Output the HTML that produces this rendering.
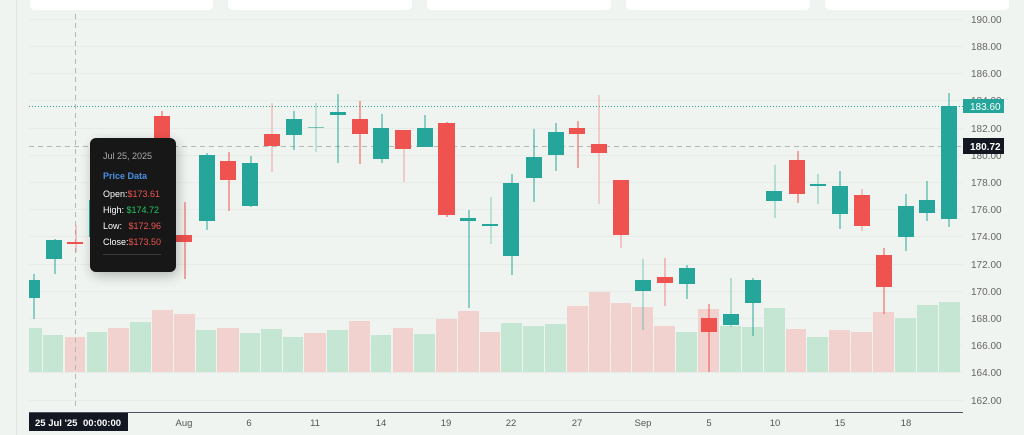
<!DOCTYPE html>
<html><head><meta charset="utf-8"><style>
html,body{margin:0;padding:0;background:#f0f4f0;}
svg{display:block;font-family:"Liberation Sans",sans-serif;}
</style></head><body>
<svg width="1024" height="435" viewBox="0 0 1024 435" xmlns="http://www.w3.org/2000/svg">
<defs><filter id="sh" x="-40%" y="-30%" width="180%" height="160%"><feGaussianBlur stdDeviation="6"/></filter></defs>
<rect width="1024" height="435" fill="#f0f4f0"/>
<line x1="16.5" y1="0" x2="16.5" y2="435" stroke="#e2e6e2"/>
<g fill="#fff">
<rect x="30" y="-6" width="183" height="16" rx="5"/>
<rect x="228" y="-6" width="184" height="16" rx="5"/>
<rect x="427" y="-6" width="184" height="16" rx="5"/>
<rect x="626" y="-6" width="184" height="16" rx="5"/>
<rect x="825" y="-6" width="184" height="16" rx="5"/>
</g>
<g stroke="#e8ece8" stroke-width="1">
<line x1="29" x2="963" y1="19.5" y2="19.5"/><line x1="29" x2="963" y1="46.5" y2="46.5"/><line x1="29" x2="963" y1="73.5" y2="73.5"/><line x1="29" x2="963" y1="100.5" y2="100.5"/><line x1="29" x2="963" y1="128.5" y2="128.5"/><line x1="29" x2="963" y1="155.5" y2="155.5"/><line x1="29" x2="963" y1="182.5" y2="182.5"/><line x1="29" x2="963" y1="209.5" y2="209.5"/><line x1="29" x2="963" y1="236.5" y2="236.5"/><line x1="29" x2="963" y1="264.5" y2="264.5"/><line x1="29" x2="963" y1="291.5" y2="291.5"/><line x1="29" x2="963" y1="318.5" y2="318.5"/><line x1="29" x2="963" y1="345.5" y2="345.5"/><line x1="29" x2="963" y1="372.5" y2="372.5"/><line x1="29" x2="963" y1="400.5" y2="400.5"/>
</g>
<!-- volume -->
<g>
<rect x="29" y="328" width="13" height="44" fill="#c5e6d3"/>
<rect x="43" y="335" width="20" height="37" fill="#c5e6d3"/>
<rect x="65" y="337" width="20" height="35" fill="#f2d2cf"/>
<rect x="87" y="332" width="20" height="40" fill="#c5e6d3"/>
<rect x="108" y="328" width="21" height="44" fill="#f2d2cf"/>
<rect x="130" y="322" width="21" height="50" fill="#c5e6d3"/>
<rect x="152" y="310" width="21" height="62" fill="#f2d2cf"/>
<rect x="174" y="314" width="21" height="58" fill="#f2d2cf"/>
<rect x="196" y="330" width="20" height="42" fill="#c5e6d3"/>
<rect x="217" y="328" width="22" height="44" fill="#f2d2cf"/>
<rect x="240" y="333" width="20" height="39" fill="#c5e6d3"/>
<rect x="261" y="329" width="21" height="43" fill="#c5e6d3"/>
<rect x="283" y="337" width="20" height="35" fill="#c5e6d3"/>
<rect x="304" y="333" width="22" height="39" fill="#f2d2cf"/>
<rect x="327" y="330" width="21" height="42" fill="#c5e6d3"/>
<rect x="349" y="321" width="21" height="51" fill="#f2d2cf"/>
<rect x="371" y="335" width="20" height="37" fill="#c5e6d3"/>
<rect x="393" y="328" width="20" height="44" fill="#f2d2cf"/>
<rect x="414" y="334" width="21" height="38" fill="#c5e6d3"/>
<rect x="436" y="319" width="21" height="53" fill="#f2d2cf"/>
<rect x="458" y="311" width="21" height="61" fill="#f2d2cf"/>
<rect x="480" y="332" width="20" height="40" fill="#f2d2cf"/>
<rect x="501" y="323" width="21" height="49" fill="#c5e6d3"/>
<rect x="523" y="326" width="21" height="46" fill="#c5e6d3"/>
<rect x="545" y="324" width="21" height="48" fill="#c5e6d3"/>
<rect x="567" y="306" width="21" height="66" fill="#f2d2cf"/>
<rect x="589" y="292" width="21" height="80" fill="#f2d2cf"/>
<rect x="611" y="303" width="20" height="69" fill="#f2d2cf"/>
<rect x="632" y="307" width="21" height="65" fill="#f2d2cf"/>
<rect x="654" y="326" width="21" height="46" fill="#f2d2cf"/>
<rect x="676" y="332" width="21" height="40" fill="#c5e6d3"/>
<rect x="698" y="309" width="21" height="63" fill="#f2d2cf"/>
<rect x="720" y="326" width="21" height="46" fill="#c5e6d3"/>
<rect x="742" y="327" width="21" height="45" fill="#c5e6d3"/>
<rect x="764" y="308" width="21" height="64" fill="#c5e6d3"/>
<rect x="786" y="329" width="20" height="43" fill="#f2d2cf"/>
<rect x="807" y="337" width="21" height="35" fill="#c5e6d3"/>
<rect x="829" y="330" width="21" height="42" fill="#f2d2cf"/>
<rect x="851" y="332" width="21" height="40" fill="#f2d2cf"/>
<rect x="873" y="312" width="21" height="60" fill="#f2d2cf"/>
<rect x="895" y="318" width="21" height="54" fill="#c5e6d3"/>
<rect x="917" y="305" width="21" height="67" fill="#c5e6d3"/>
<rect x="939" y="302" width="21" height="70" fill="#c5e6d3"/>
</g>
<!-- price lines -->
<line x1="29" x2="963" y1="106.5" y2="106.5" stroke="#26a69a" stroke-dasharray="1 2"/>
<line x1="29" x2="963" y1="146.5" y2="146.5" stroke="#b4b8b4" stroke-dasharray="5 4"/>
<line x1="75.5" x2="75.5" y1="14" y2="410" stroke="#b4b8b4" stroke-dasharray="5 4"/>
<!-- candles -->
<g>
<!-- green -->
<g fill="#26a69a">
<rect x="33.5" y="274" width="1" height="45"/><rect x="29" y="280" width="11" height="18"/>
<rect x="54.5" y="239" width="1" height="35"/><rect x="46" y="240" width="16" height="19"/>
<rect x="96.5" y="195" width="1" height="45"/><rect x="89" y="200" width="16" height="37"/>
<rect x="140.5" y="185" width="1" height="30"/><rect x="132" y="190" width="16" height="20"/>
<rect x="206.5" y="153" width="1" height="77"/><rect x="199" y="155" width="16" height="66"/>
<rect x="250.5" y="156" width="1" height="51"/><rect x="242" y="163" width="16" height="43"/>
<rect x="293.5" y="111" width="1" height="39"/><rect x="286" y="119" width="16" height="16"/>
<rect x="337.5" y="94" width="1" height="69"/><rect x="330" y="112" width="16" height="3"/>
<rect x="381.5" y="114" width="1" height="49"/><rect x="373" y="128" width="16" height="31"/>
<rect x="424.5" y="115" width="1" height="32"/><rect x="417" y="128" width="16" height="19"/>
<rect x="468.5" y="210" width="1" height="98"/><rect x="460" y="218" width="16" height="3"/>
<rect x="511.5" y="174" width="1" height="101"/><rect x="503" y="183" width="16" height="73"/>
<rect x="533.5" y="129" width="1" height="73"/><rect x="526" y="157" width="16" height="21"/>
<rect x="555.5" y="123" width="1" height="48"/><rect x="548" y="132" width="16" height="23"/>
<rect x="642.5" y="259" width="1" height="71" opacity=".6"/><rect x="635" y="280" width="16" height="11"/>
<rect x="686.5" y="265" width="1" height="34"/><rect x="679" y="268" width="16" height="16"/>
<rect x="730.5" y="278" width="1" height="49" opacity=".6"/><rect x="723" y="314" width="16" height="11"/>
<rect x="752.5" y="278" width="1" height="58"/><rect x="745" y="280" width="16" height="23"/>
<rect x="774.5" y="165" width="1" height="53" opacity=".6"/><rect x="766" y="191" width="16" height="10"/>
<rect x="817.5" y="174" width="1" height="30" opacity=".6"/><rect x="810" y="184" width="16" height="2"/>
<rect x="839.5" y="171" width="1" height="58"/><rect x="832" y="186" width="16" height="28"/>
<rect x="905.5" y="194" width="1" height="57"/><rect x="898" y="206" width="16" height="31"/>
<rect x="926.5" y="181" width="1" height="40"/><rect x="919" y="200" width="16" height="13"/>
<rect x="948.5" y="93" width="1" height="134"/><rect x="941" y="106" width="16" height="113"/>
<rect x="315.5" y="103" width="1" height="49" opacity=".5"/><rect x="308" y="127" width="16" height="1" opacity=".6"/>
<rect x="490.5" y="197" width="1" height="47" opacity=".5"/><rect x="482" y="224" width="16" height="2"/>
</g>
<g fill="#ef5350">
<rect x="75.5" y="225" width="1" height="27" opacity=".6"/><rect x="67" y="242" width="16" height="2"/>
<rect x="118.5" y="190" width="1" height="30"/><rect x="111" y="195" width="16" height="20"/>
<rect x="161.5" y="111" width="1" height="55"/><rect x="154" y="116" width="16" height="44"/>
<rect x="184.5" y="202" width="1" height="77"/><rect x="176" y="235" width="16" height="7"/>
<rect x="228.5" y="152" width="1" height="59"/><rect x="220" y="161" width="16" height="19"/>
<rect x="271.5" y="103" width="1" height="69" opacity=".5"/><rect x="264" y="134" width="16" height="12"/>
<rect x="359.5" y="101" width="1" height="63"/><rect x="352" y="119" width="16" height="15"/>
<rect x="403.5" y="130" width="1" height="52" opacity=".5"/><rect x="395" y="130" width="16" height="19"/>
<rect x="446.5" y="122" width="1" height="95"/><rect x="438" y="123" width="17" height="92"/>
<rect x="577.5" y="121" width="1" height="47"/><rect x="569" y="128" width="16" height="6"/>
<rect x="598.5" y="95" width="1" height="109" opacity=".5"/><rect x="591" y="144" width="16" height="9"/>
<rect x="620.5" y="180" width="1" height="68" opacity=".6"/><rect x="613" y="180" width="16" height="55"/>
<rect x="664.5" y="258" width="1" height="48" opacity=".7"/><rect x="657" y="277" width="16" height="6"/>
<rect x="708.5" y="304" width="1" height="68"/><rect x="701" y="318" width="16" height="14"/>
<rect x="797.5" y="151" width="1" height="52"/><rect x="789" y="160" width="16" height="34"/>
<rect x="861.5" y="189" width="1" height="42" opacity=".6"/><rect x="854" y="195" width="16" height="31"/>
<rect x="883.5" y="248" width="1" height="66"/><rect x="876" y="255" width="16" height="32"/>
</g>
</g>
<!-- axis -->
<line x1="29" x2="963" y1="412.5" y2="412.5" stroke="#50535e"/>
<g font-size="9.5" fill="#555" text-anchor="middle">
<text x="184" y="426">Aug</text><text x="249" y="426">6</text><text x="315" y="426">11</text><text x="381" y="426">14</text><text x="446" y="426">19</text><text x="511" y="426">22</text><text x="577" y="426">27</text><text x="643" y="426">Sep</text><text x="709" y="426">5</text><text x="775" y="426">10</text><text x="840" y="426">15</text><text x="906" y="426">18</text>
</g>
<rect x="29" y="413" width="99" height="18" fill="#131722"/>
<text x="35" y="426" font-size="9.5" fill="#fff" font-weight="bold">25 Jul '25</text>
<text x="83" y="426" font-size="9.5" fill="#fff" font-weight="bold">00:00:00</text>
<g font-size="10" fill="#666">
<text x="971" y="23">190.00</text><text x="971" y="50">188.00</text><text x="971" y="77">186.00</text><text x="971" y="104">184.00</text><text x="971" y="132">182.00</text><text x="971" y="159">180.00</text><text x="971" y="186">178.00</text><text x="971" y="213">176.00</text><text x="971" y="240">174.00</text><text x="971" y="268">172.00</text><text x="971" y="295">170.00</text><text x="971" y="322">168.00</text><text x="971" y="349">166.00</text><text x="971" y="376">164.00</text><text x="971" y="404">162.00</text>
</g>
<rect x="963" y="99" width="41" height="14" fill="#26a69a"/>
<text x="970" y="110" font-size="10" fill="#fff">183.60</text>
<rect x="963" y="138" width="41" height="16" fill="#131722"/>
<text x="970" y="150" font-size="10" fill="#fff" font-weight="bold">180.72</text>
<!-- tooltip -->
<rect x="92" y="142" width="86" height="134" rx="7" fill="#000" opacity=".25" filter="url(#sh)"/>
<rect x="90" y="138" width="86" height="134" rx="6" fill="#171717"/>
<g font-size="9">
<text x="103" y="159" fill="#aaa">Jul 25, 2025</text>
<text x="103" y="179" fill="#4a90e2" font-weight="bold">Price Data</text>
<text x="103" y="197" fill="#fff">Open:<tspan fill="#ef5350">$173.61</tspan></text>
<text x="103" y="213" fill="#fff">High: <tspan fill="#22c55e">$174.72</tspan></text>
<text x="103" y="229" fill="#fff">Low:  <tspan fill="#ef5350" dx="4">$172.96</tspan></text>
<text x="103" y="245" fill="#fff">Close:<tspan fill="#ef5350">$173.50</tspan></text>
</g>
<line x1="103" x2="161" y1="254.5" y2="254.5" stroke="#3a3a3a"/>
</svg>
</body></html>
